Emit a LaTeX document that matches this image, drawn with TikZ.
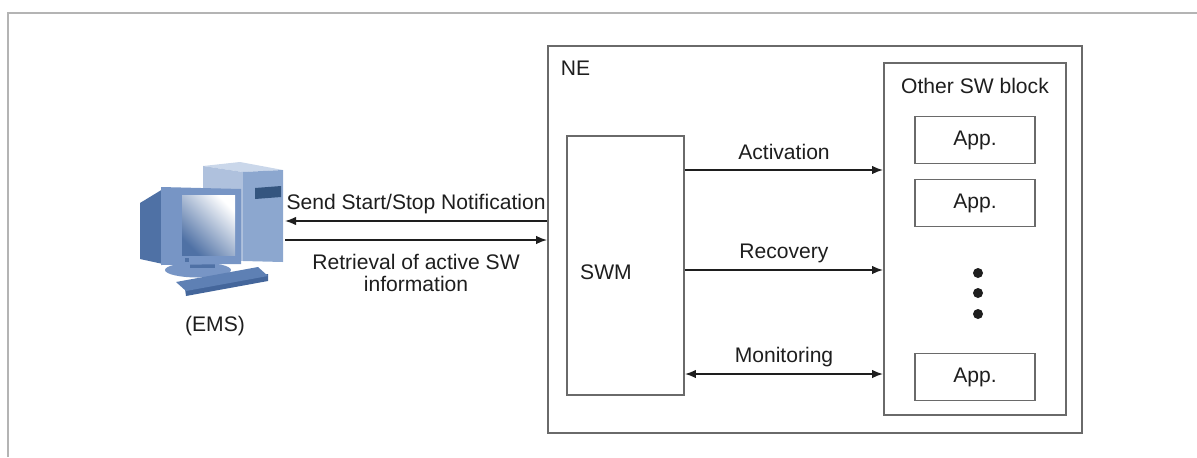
\documentclass[tikz,border=0pt]{standalone}
\usepackage{fontspec}
\setmainfont{Liberation Sans}
\usepackage{tikz}
\usetikzlibrary{positioning,arrows.meta}

\definecolor{ink}{HTML}{1E1E1E}
\definecolor{framegray}{HTML}{B4B4B4}
\definecolor{boxgray}{HTML}{6A6A6A}
\definecolor{pchouse}{HTML}{4F71A5}
\definecolor{pcbezel}{HTML}{7795C5}
\definecolor{pcside}{HTML}{AFC1DD}
\definecolor{pcfront}{HTML}{8CA7CF}
\definecolor{pctop}{HTML}{CAD7EA}
\definecolor{pcslot}{HTML}{34557F}
\definecolor{pckey}{HTML}{5E80B4}
\definecolor{pckeyfront}{HTML}{44669B}

\begin{document}
\begin{tikzpicture}[x=0.02cm, y=-0.02cm, >={Latex[length=0.22cm,width=0.17cm]},
                    every node/.style={font=\fontsize{12}{12.5}\selectfont, text=ink},
                    block/.style 2 args={draw=boxgray, line width=1.1pt, inner sep=0pt,
                                         minimum width=#1, minimum height=#2},
                    flow/.style={line width=0.9pt, ink}]
\useasboundingbox (0,0) rectangle (1197,457);
\draw[framegray, line width=1.2pt] (8,457) -- (8,13) -- (1197,13);

% network element with its blocks
\node[block={10.68cm}{7.74cm}] (ne) at (815,239.5) {};
\node[below right=0.2cm and 0.15cm of ne.north west] (nelbl) {NE};
\node[block={2.34cm}{5.18cm}] (swm) at (625.5,265.5) {};
\node (swmlbl) at (606,272) {SWM};
\node[block={3.64cm}{7.04cm}] (other) at (975,239) {};
\node[below=0.2cm of other.north] (otherlbl) {Other SW block};
\node[block={2.4cm}{0.94cm}] (app1) at (975,140) {App.};
\node[block={2.4cm}{0.94cm}] (app2) at (975,203) {App.};
\node[block={2.4cm}{0.94cm}] (app3) at (975,377) {App.};
\foreach \y in {273,293,314}
  \fill[ink] (978,\y) circle[radius=0.1cm];

% management station
\coordinate (pc) at (285,230);
\fill[pctop] (203,166) -- (240,162) -- (283,170) -- (243,172) -- cycle;
\fill[pcside] (203,166) -- (243,172) -- (243,261) -- (203,257) -- cycle;
\fill[pcfront] (243,172) -- (283,170) -- (283,262) -- (243,261) -- cycle;
\fill[pcslot] (255,188) -- (281,186) -- (281,197) -- (255,199) -- cycle;
\fill[pchouse] (140,203) -- (163,189) -- (163,264) -- (140,259) -- cycle;
\fill[pcbezel] (198,270) ellipse[x radius=0.66cm, y radius=0.15cm];
\fill[pchouse] (190,262) rectangle (215,268);
\fill[pcbezel] (161,187) -- (241,189) -- (241,264) -- (161,265) -- cycle;
\shade[top color=pchouse, bottom color=white, shading angle=135]
  (182,195) rectangle (235,255);
\fill[pchouse] (185,258) rectangle (189,262);
\fill[pckeyfront] (185,289) -- (268,274) -- (268,281) -- (186,296) -- cycle;
\fill[pckey] (176,282) -- (258,267) -- (268,276) -- (186,291) -- cycle;
\node (ems) at (215,326) {(EMS)};

% messages to and from the station
\draw[flow, ->] (ne.west |- 0,221) -- (pc |- 0,221)
  node[midway, above] (sendlbl) {Send Start/Stop Notification};
\draw[flow, ->] (pc |- 0,240) -- (ne.west |- 0,240);
\node[align=center] (retlbl) at (416,273) {Retrieval of active SW\\information};

% control of the other blocks
\draw[flow, ->] (swm.east |- 0,170) -- (other.west |- 0,170)
  node[midway, above=2pt] (actlbl) {Activation};
\draw[flow, ->] (swm.east |- 0,270) -- (other.west |- 0,270)
  node[midway, above] (reclbl) {Recovery};
\draw[flow, <->] (swm.east |- 0,374) -- (other.west |- 0,374)
  node[midway, above] (monlbl) {Monitoring};
\end{tikzpicture}
\end{document}
